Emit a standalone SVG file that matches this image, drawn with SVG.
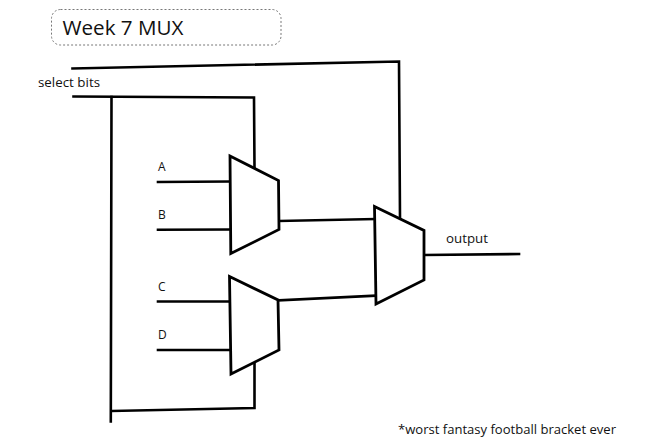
<svg xmlns="http://www.w3.org/2000/svg" width="653" height="448" viewBox="0 0 653 448">
<style>
.w{fill:none;stroke:#000;stroke-width:2.6;stroke-linecap:square;stroke-linejoin:miter}
.m{fill:#fff;stroke:#000;stroke-width:2.8;stroke-linejoin:miter}
text{font-family:"Open Sans","Noto Sans","Liberation Sans",sans-serif;fill:#111}
.s{font-size:12px}
</style>
<rect width="653" height="448" fill="#fff"/>
<g id="title">
<rect x="51.500" y="9.500" width="229.500" height="35.500" rx="9" fill="#fff" stroke="#777" stroke-width="1" stroke-dasharray="2 2"/>
<text x="62.500" y="35" font-size="20" textLength="121" lengthAdjust="spacingAndGlyphs">Week 7 MUX</text>
</g>
<g id="connectors">
<path class="w" d="M72.500 68.500 L399 61.500 L400 218"/>
<path class="w" d="M73.500 96.500 L254 97.500 L254.500 168"/>
<path class="w" d="M111.500 97 L110.800 421.500"/>
<path class="w" d="M112 411 L254.500 408 L254.500 362"/>
<path class="w" d="M158 182 L230 181.500"/>
<path class="w" d="M158 229.800 L230 229.500"/>
<path class="w" d="M158 301.500 L230 301.500"/>
<path class="w" d="M158 350 L230 350"/>
<path class="w" d="M279 221 L375 219"/>
<path class="w" d="M279 300.300 L375 295.700"/>
<path class="w" d="M424 255 L519 254"/>
</g>
<g id="mux-1"><path class="m" d="M230 156 L278.500 180.500 L279 229.500 L230.800 253.500 Z"/></g>
<g id="mux-2"><path class="m" d="M229.500 276.500 L278 300 L279 350 L231 374 Z"/></g>
<g id="mux-3"><path class="m" d="M374.500 206.500 L424 230.500 L424 280 L376 304 Z"/></g>
<g id="labels">
<text class="s" x="38" y="87" textLength="62" lengthAdjust="spacingAndGlyphs">select bits</text>
<text class="s" x="158" y="171">A</text>
<text class="s" x="158" y="219">B</text>
<text class="s" x="158" y="291">C</text>
<text class="s" x="158" y="339">D</text>
<text class="s" x="446" y="243" textLength="42" lengthAdjust="spacingAndGlyphs">output</text>
<text class="s" x="398" y="434" textLength="218" lengthAdjust="spacingAndGlyphs">*worst fantasy football bracket ever</text>
</g>
</svg>
